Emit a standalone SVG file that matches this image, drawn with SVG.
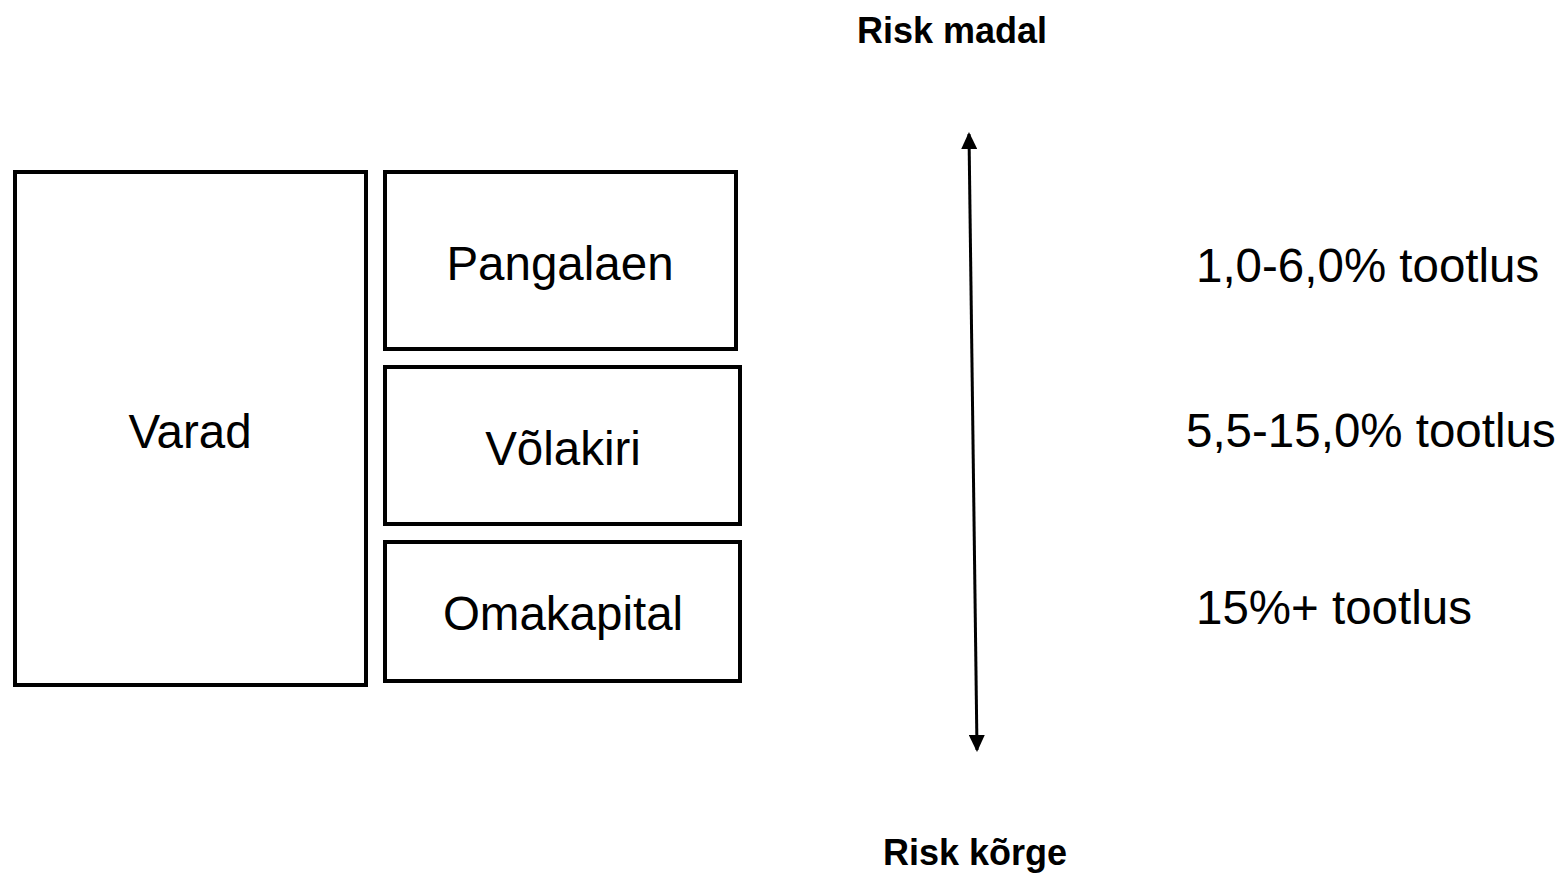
<svg xmlns="http://www.w3.org/2000/svg" width="1567" height="873" viewBox="0 0 1567 873">
<style>
.box{fill:#fff;stroke:#000;stroke-width:4}
.t{font-family:"Liberation Sans",Arial,sans-serif;font-size:47.5px;fill:#000}
.b{font-family:"Liberation Sans",Arial,sans-serif;font-size:36px;font-weight:bold;fill:#000}
</style>
<defs>
<marker id="ah" viewBox="0 0 17 16" refX="15" refY="8" markerWidth="17" markerHeight="16" orient="auto-start-reverse" markerUnits="userSpaceOnUse">
<path d="M0,0 L17,8 L0,16 z" fill="#000"/>
</marker>
</defs>
<rect width="1567" height="873" fill="#fff"/>
<g id="varad"><rect class="box" x="15" y="172" width="351" height="513"/><text class="t" x="190" y="448" text-anchor="middle">Varad</text></g>
<g id="pangalaen"><rect class="box" x="385" y="172" width="351" height="177"/><text class="t" x="560" y="280" text-anchor="middle">Pangalaen</text></g>
<g id="volakiri"><rect class="box" x="385" y="367" width="355" height="157"/><text class="t" x="563" y="465" text-anchor="middle">Võlakiri</text></g>
<g id="omakapital"><rect class="box" x="385" y="542" width="355" height="139"/><text class="t" x="563" y="630" text-anchor="middle">Omakapital</text></g>
<g id="labels">
<text class="b" x="952" y="43" text-anchor="middle">Risk madal</text>
<text class="b" x="975" y="865" text-anchor="middle">Risk kõrge</text>
<text class="t" x="1196" y="282">1,0-6,0% tootlus</text>
<text class="t" x="1186" y="447">5,5-15,0% tootlus</text>
<text class="t" x="1196" y="624">15%+ tootlus</text>
</g>
<g id="connectors">
<line x1="969" y1="134" x2="977" y2="750" stroke="#000" stroke-width="3" marker-start="url(#ah)" marker-end="url(#ah)"/>
</g>
</svg>
